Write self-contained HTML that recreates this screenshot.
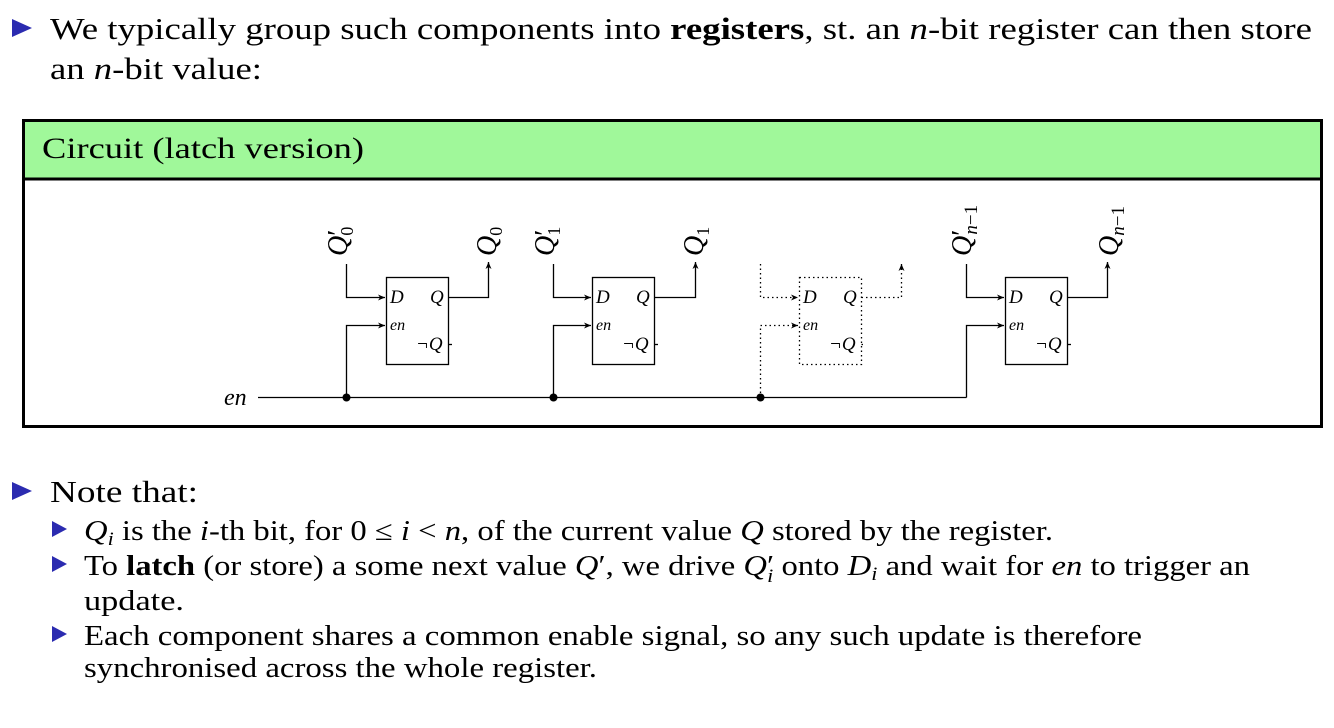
<!DOCTYPE html>
<html><head><meta charset="utf-8"><style>
html,body{margin:0;padding:0;background:#fff;}
svg{display:block;}
text{font-family:"Liberation Serif",serif;fill:#000;}
.it{font-style:italic;}
</style></head><body>
<svg width="1334" height="728" viewBox="0 0 1334 728" xmlns="http://www.w3.org/2000/svg">
<defs>
<marker id="ar" markerWidth="8" markerHeight="8" refX="7" refY="4" orient="auto" markerUnits="userSpaceOnUse">
<path d="M0,1 L7,4 L0,7 L2,4 Z" fill="#000"/>
</marker>
</defs>
<polygon points="12,19 32,28 12,37" fill="#2b2bb0"/>
<text x="50" y="39" font-size="31" textLength="1262" lengthAdjust="spacingAndGlyphs">We typically group such components into <tspan font-weight="bold">registers</tspan>, st. an <tspan class="it">n</tspan>-bit register can then store</text>
<text x="50" y="79" font-size="31" textLength="212" lengthAdjust="spacingAndGlyphs">an <tspan class="it">n</tspan>-bit value:</text>

<rect x="23.5" y="120.5" width="1298" height="58" fill="#a0f89a" stroke="none"/>
<rect x="23.5" y="120.5" width="1298" height="306" fill="none" stroke="#000" stroke-width="3"/>
<line x1="23" y1="179" x2="1322" y2="179" stroke="#000" stroke-width="3"/>
<text x="42" y="158" font-size="30" textLength="322" lengthAdjust="spacingAndGlyphs">Circuit (latch version)</text>

<g stroke="#000" stroke-width="1.3" fill="none">
<rect x="386.5" y="277.5" width="62" height="87"/>
<rect x="592.5" y="277.5" width="62" height="87"/>
<rect x="1005.5" y="277.5" width="62" height="87"/>
<rect x="799.5" y="277.5" width="62" height="87" stroke-dasharray="1.5,3"/>
<line x1="258" y1="397.5" x2="966.5" y2="397.5"/>
<polyline points="966.5,397.5 966.5,325.5 1004,325.5" marker-end="url(#ar)"/>
<polyline points="346.5,264 346.5,297.5 385,297.5" marker-end="url(#ar)"/>
<polyline points="346.5,397.5 346.5,325.5 385,325.5" marker-end="url(#ar)"/>
<polyline points="448.5,297.5 488.5,297.5 488.5,262" marker-end="url(#ar)"/>
<line x1="448.5" y1="344.5" x2="452" y2="344.5"/>
<polyline points="553.5,264 553.5,297.5 591,297.5" marker-end="url(#ar)"/>
<polyline points="553.5,397.5 553.5,325.5 591,325.5" marker-end="url(#ar)"/>
<polyline points="654.5,297.5 695.5,297.5 695.5,262" marker-end="url(#ar)"/>
<line x1="654.5" y1="344.5" x2="658" y2="344.5"/>
<polyline points="966.5,264 966.5,297.5 1004,297.5" marker-end="url(#ar)"/>
<polyline points="1067.5,297.5 1107.5,297.5 1107.5,262" marker-end="url(#ar)"/>
<line x1="1067.5" y1="344.5" x2="1071" y2="344.5"/>
<g stroke-dasharray="1.5,3">
<polyline points="760.5,264 760.5,297.5 798,297.5" marker-end="url(#ar)"/>
<polyline points="760.5,397.5 760.5,325.5 798,325.5" marker-end="url(#ar)"/>
<polyline points="861.5,297.5 901.5,297.5 901.5,264" marker-end="url(#ar)"/>
<line x1="861.5" y1="344.5" x2="865" y2="344.5"/>
</g>
</g>
<circle cx="346.5" cy="397.5" r="4" fill="#000"/>
<circle cx="553.5" cy="397.5" r="4" fill="#000"/>
<circle cx="760.5" cy="397.5" r="4" fill="#000"/>
<text x="224" y="405" font-size="24" class="it">en</text>

<g font-size="19" class="it">
<text x="390" y="303">D</text><text x="430" y="303">Q</text><text x="390" y="330" font-size="16">en</text><text x="416" y="350">¬Q</text>
<text x="596" y="303">D</text><text x="636" y="303">Q</text><text x="596" y="330" font-size="16">en</text><text x="622" y="350">¬Q</text>
<text x="803" y="303">D</text><text x="843" y="303">Q</text><text x="803" y="330" font-size="16">en</text><text x="829" y="350">¬Q</text>
<text x="1009" y="303">D</text><text x="1049" y="303">Q</text><text x="1009" y="330" font-size="16">en</text><text x="1035" y="350">¬Q</text>
</g>

<g font-size="28" class="it">
<text transform="translate(347,256) rotate(-90)">Q<tspan font-style="normal">′</tspan><tspan font-size="18" font-style="normal" dy="6" dx="-6">0</tspan></text>
<text transform="translate(496,256) rotate(-90)">Q<tspan font-size="18" font-style="normal" dy="6">0</tspan></text>
<text transform="translate(554,256) rotate(-90)">Q<tspan font-style="normal">′</tspan><tspan font-size="18" font-style="normal" dy="6" dx="-6">1</tspan></text>
<text transform="translate(703,256) rotate(-90)">Q<tspan font-size="18" font-style="normal" dy="6">1</tspan></text>
<text transform="translate(971,256) rotate(-90)">Q<tspan font-style="normal">′</tspan><tspan font-size="19" dy="6" dx="-5">n</tspan><tspan font-size="19" font-style="normal">−1</tspan></text>
<text transform="translate(1118,256) rotate(-90)">Q<tspan font-size="19" dy="6">n</tspan><tspan font-size="19" font-style="normal">−1</tspan></text>
</g>

<polygon points="12,482 32,491 12,500" fill="#2b2bb0"/>
<text x="50" y="502" font-size="31" textLength="148" lengthAdjust="spacingAndGlyphs">Note that:</text>

<g fill="#2b2bb0">
<polygon points="52,521 67,529 52,537"/>
<polygon points="52,556 67,564 52,572"/>
<polygon points="52,626 67,634 52,642"/>
</g>
<g font-size="28">
<text x="84" y="540" textLength="969" lengthAdjust="spacingAndGlyphs"><tspan class="it">Q<tspan font-size="19" dy="5">i</tspan></tspan><tspan dy="-5"> is the </tspan><tspan class="it">i</tspan>-th bit, for 0 ≤ <tspan class="it">i</tspan> &lt; <tspan class="it">n</tspan>, of the current value <tspan class="it">Q</tspan> stored by the register.</text>
<text x="84" y="575" textLength="1166" lengthAdjust="spacingAndGlyphs">To <tspan font-weight="bold">latch</tspan> (or store) a some next value <tspan class="it">Q</tspan>′, we drive <tspan class="it">Q</tspan>′<tspan class="it" font-size="19" dy="7" dx="-6">i</tspan><tspan dy="-7"> onto </tspan><tspan class="it">D</tspan><tspan class="it" font-size="19" dy="5">i</tspan><tspan dy="-5"> and wait for </tspan><tspan class="it">en</tspan> to trigger an</text>
<text x="84" y="610" textLength="100" lengthAdjust="spacingAndGlyphs">update.</text>
<text x="84" y="645" textLength="1058" lengthAdjust="spacingAndGlyphs">Each component shares a common enable signal, so any such update is therefore</text>
<text x="84" y="677" textLength="513" lengthAdjust="spacingAndGlyphs">synchronised across the whole register.</text>
</g>
</svg>
</body></html>
